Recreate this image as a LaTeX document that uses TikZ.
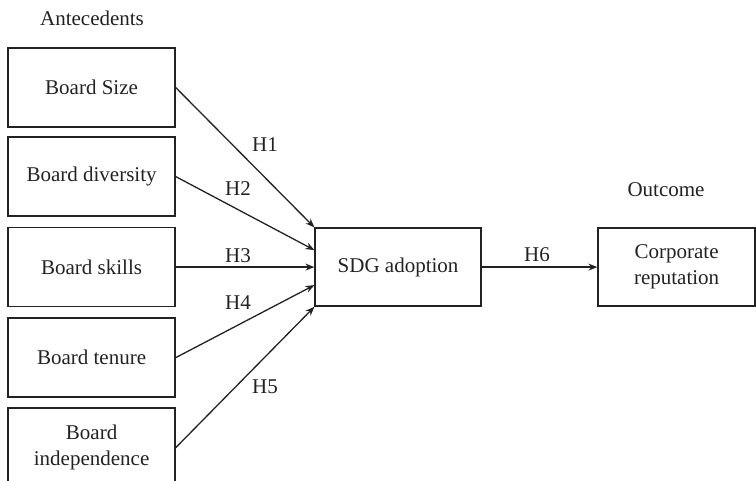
\documentclass[tikz,border=0pt]{standalone}
\usepackage{fontspec}
\setmainfont{Liberation Serif}
\usetikzlibrary{arrows.meta,calc}
\definecolor{ink}{HTML}{222222}
\begin{document}
\begin{tikzpicture}[x=1pt,y=-1pt,
  every node/.style={text=ink,font=\fontsize{21}{26}\selectfont},
  box/.style={draw=ink,line width=1.4pt,rectangle,inner sep=0pt,align=center,minimum width=167pt,minimum height=79pt},
  conn/.style={draw=ink,line width=1.3pt,-{Stealth[length=9pt,width=7pt]}},
  lbl/.style={inner sep=0pt}]
\useasboundingbox (0,0) rectangle (756,480);
\clip (0,0) rectangle (756,480);
\node[lbl] (ant) at (92,18) {Antecedents};
\node[lbl] (out) at (666,190) {Outcome};
\node[box] (size) at (91.6,87.6) {Board Size};
\node[box] (div) at (91.6,176.6) {Board diversity};
\node[box] (skills) at (91.6,267.1) {Board skills};
\node[box] (ten) at (91.6,357.6) {Board tenure};
\node[box] (ind) at (91.6,447.6) {Board\\independence};
\node[box,minimum width=166pt,minimum height=78pt] (sdg) at (398.1,267.1) {SDG adoption};
\node[box,minimum width=157pt,minimum height=78pt] (corp) at (676.6,267.1) {Corporate\\reputation};
\draw[conn] (size.east) -- (sdg.north west);
\draw[conn] (div.east) -- ($(sdg.west)+(0,-17)$);
\draw[conn] (skills.east) -- (sdg.west);
\draw[conn] (ten.east) -- ($(sdg.west)+(0,18)$);
\draw[conn] (ind.east) -- (sdg.south west);
\draw[conn] (sdg.east) -- (corp.west);
\node[lbl] (h1) at (265,145) {H1};
\node[lbl] (h2) at (238,189) {H2};
\node[lbl] (h3) at (238,256) {H3};
\node[lbl] (h4) at (238,303) {H4};
\node[lbl] (h5) at (265,387) {H5};
\node[lbl] (h6) at (537,255) {H6};
\end{tikzpicture}
\end{document}
